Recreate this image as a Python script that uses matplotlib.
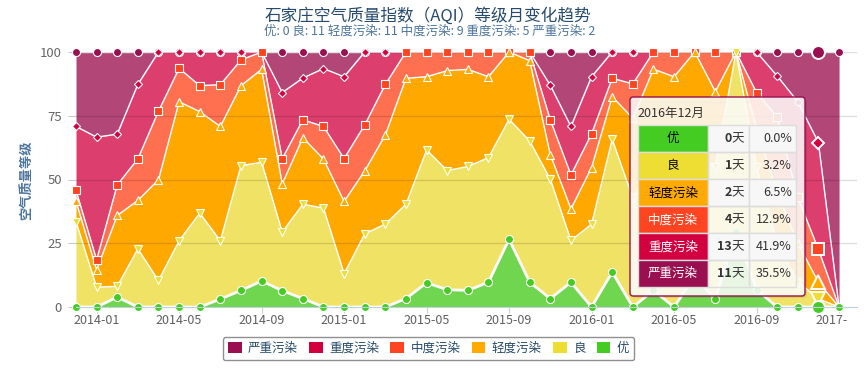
import numpy as np
import pandas as pd
import matplotlib.pyplot as plt
from matplotlib.patches import FancyBboxPatch, Rectangle, Patch
from matplotlib.transforms import Bbox

plt.rcParams['font.family'] = ['Noto Sans CJK SC', 'DejaVu Sans']

# ---- data (share of days per month, %) ----
months = [str(p) for p in pd.period_range('2013-12', '2017-01', freq='M')]

you    = [0, 0, 3.9, 0, 0, 0, 0, 3.1, 6.5, 10.2, 6.4, 3.3, 0, 0, 0, 0, 3.3, 9.5, 6.8, 6.5,
          9.7, 26.6, 9.7, 3.3, 9.7, 0, 13.7, 0, 6.5, 0, 12.0, 3.0, 29.5, 6.8, 0, 0, 0, 0]
liang  = [33.5, 7.8, 4.2, 22.8, 10.4, 26.0, 36.8, 22.9, 48.9, 46.6, 23.0, 37.0, 38.8, 13.1, 28.7, 32.5, 37.0, 52.1, 46.7, 48.6,
          48.9, 47.0, 55.4, 46.8, 16.4, 32.5, 52.1, 42.7, 48.5, 48.0, 48.0, 52.0, 70.5, 48.2, 25.0, 10.0, 3.2, 0]
qingdu = [7.9, 6.8, 27.8, 19.0, 39.5, 54.5, 39.8, 44.8, 31.4, 36.4, 18.9, 26.1, 19.2, 28.3, 24.7, 35.0, 49.4, 28.7, 39.2, 38.1,
          31.7, 26.4, 31.5, 9.6, 12.4, 22.2, 16.7, 31.3, 38.3, 42.3, 40.0, 29.5, 0, 15.0, 20.0, 15.0, 6.5, 0]
zhongdu = [4.4, 3.9, 12.0, 16.3, 26.9, 13.1, 10.2, 16.4, 10.1, 6.8, 9.9, 7.0, 12.8, 16.8, 18.0, 19.8, 10.3, 9.7, 7.3, 6.8,
           9.7, 0, 3.4, 13.7, 13.3, 13.2, 7.2, 13.5, 6.7, 9.7, 0, 15.5, 0, 14.1, 29.5, 18.0, 12.9, 0]
zhong  = [25.0, 48.1, 19.9, 29.2, 23.2, 6.4, 13.2, 12.8, 3.1, 0, 25.9, 16.4, 22.7, 32.1, 28.6, 12.7, 0, 0, 0, 0,
          0, 0, 0, 13.5, 19.0, 22.4, 10.3, 12.5, 0, 0, 0, 0, 0, 15.9, 16.1, 37.5, 41.9, 0]
yanzhong = [29.2, 33.4, 32.2, 12.7, 0, 0, 0, 0, 0, 0, 15.9, 10.2, 6.5, 9.7, 0, 0, 0, 0, 0, 0,
            0, 0, 0, 13.1, 29.2, 9.7, 0, 0, 0, 0, 0, 0, 0, 0, 9.4, 19.5, 35.5, 100]

names = ['优', '良', '轻度污染', '中度污染', '重度污染', '严重污染']
series = [you, liang, qingdu, zhongdu, zhong, yanzhong]
mark_colors = ['#44cc22', '#eedd33', '#ffaa00', '#ff4422', '#d2003f', '#990f4f']
fill_colors = ['#70d650', '#f0e264', '#ffa800', '#ff7050', '#dc3f6e', '#b24677']
markers = ['o', 'v', '^', 's', 'D', 'o']
msizes = [5.8, 6.2, 6.2, 5.6, 4.0, 5.8]

title = '石家庄空气质量指数（AQI）等级月变化趋势'
subtitle = '优: 0 良: 11 轻度污染: 11 中度污染: 9 重度污染: 5 严重污染: 2'

tip_month = '2016年12月'
tip_days = [0, 1, 2, 4, 13, 11]
hover = months.index('2016-12')

# ---- stacking (percent) ----
vals = np.array(series, dtype=float)
vals = vals / vals.sum(axis=0) * 100
cum = np.cumsum(vals, axis=0)
lower = np.vstack([np.zeros(len(months)), cum[:-1]])
x = np.arange(len(months))

fig = plt.figure(figsize=(8.66, 3.78), dpi=100)
ax = fig.add_axes([76/866, 1-307/378, 781/866, 255/378])

# highcharts draws the top series first
for k in range(5, -1, -1):
    z = 2 + (5 - k)
    ax.fill_between(x, lower[k], cum[k], color=fill_colors[k], lw=0, zorder=z)
    ax.plot(x, cum[k], color='white', lw=2.0 if k == 0 else 1.0, zorder=z + 0.1,
            clip_on=False, solid_joinstyle='round')

for yv in [25, 50, 75, 100]:
    ax.axhline(yv, color='black', alpha=0.13, lw=1, zorder=8)

for k in range(5, -1, -1):
    z = 9 + (5 - k)
    ax.plot(x, cum[k], ls='none', marker=markers[k], ms=msizes[k], mfc=mark_colors[k],
            mec='white', mew=0.8, zorder=z, clip_on=False)
    ax.plot(x[hover], cum[k][hover], ls='none', marker=markers[k], ms=msizes[k] * 1.6,
            mfc=mark_colors[k], mec='white', mew=1.4, zorder=z, clip_on=False)

ax.set_xlim(0, 37.87)
ax.set_ylim(0, 100)
ax.set_facecolor('white')
for s in ['top', 'right', 'left']:
    ax.spines[s].set_visible(False)
ax.spines['bottom'].set_color('#c0d0e0')
ax.spines['bottom'].set_zorder(20)

xt = list(range(1, len(months), 4))
ax.set_xticks(xt)
ax.set_xticklabels([months[i] for i in xt], fontsize=9, color='#606060')
ax.tick_params(axis='x', length=4, color='#c0d0e0', pad=1)
ax.set_yticks([0, 25, 50, 75, 100])
ax.set_yticklabels(['0', '25', '50', '75', '100'], fontsize=9.5, color='#666666')
ax.tick_params(axis='y', length=6, color='#c8c8c8', pad=4)

fig.text(428/866, 1-16/378, title, ha='center', va='center', fontsize=12, color='#274b6d')
fig.text(430/866, 1-31/378, subtitle, ha='center', va='center', fontsize=9, color='#4d759e')
fig.text(27/866, 1-180/378, '空气质量等级', rotation=90, ha='center', va='center',
         fontsize=9.5, color='#4d759e', fontweight='bold')

# legend
handles = [Patch(fc=mark_colors[k], ec='none') for k in range(5, -1, -1)]
labels = [names[k] for k in range(5, -1, -1)]
fig.legend(handles, labels, loc='center', bbox_to_anchor=(428.5/866, 1-348.5/378), ncol=6,
           frameon=True, fancybox=True, edgecolor='#909090', framealpha=1, fontsize=9,
           labelcolor='#274b6d', handlelength=1.1, handleheight=1.0, handletextpad=0.5,
           columnspacing=0.9, borderpad=0.4)

# tooltip overlay
ov = fig.add_axes([0, 0, 1, 1], zorder=5)
ov.set_xlim(0, 866)
ov.set_ylim(378, 0)
ov.axis('off')

ov.add_patch(FancyBboxPatch((632, 99), 175, 199, boxstyle='round,pad=0,rounding_size=3',
                            fc='black', ec='none', alpha=0.08))
ov.add_patch(FancyBboxPatch((630, 97), 175, 199, boxstyle='round,pad=0,rounding_size=3',
                            fc=(1, 1, 1, 0.86), ec='#990f4f', lw=1))
ov.text(637, 113, tip_month, ha='left', va='center', fontsize=9, color='#333333')

total = sum(tip_days)
row_top, row_h = 125.3, 27.0
cx = [638, 708, 749, 796]
for i in range(6):
    y0 = row_top + i * row_h
    ov.add_patch(Rectangle((cx[0], y0), cx[1] - cx[0], row_h, fc=mark_colors[i], ec='#dddddd', lw=1))
    rowbg = '#f7f7f7' if i % 2 == 0 else 'none'
    ov.add_patch(Rectangle((cx[1], y0), cx[2] - cx[1], row_h, fc=rowbg, ec='#dddddd', lw=1))
    ov.add_patch(Rectangle((cx[2], y0), cx[3] - cx[2], row_h, fc=rowbg, ec='#dddddd', lw=1))
    tc = 'black' if i < 3 else 'white'
    ov.text((cx[0] + cx[1]) / 2, y0 + row_h / 2, names[i], ha='center', va='center', fontsize=9, color=tc)
    ov.text(744, y0 + row_h / 2, '天', ha='right', va='center', fontsize=9, color='#333333')
    ov.text(732, y0 + row_h / 2, str(tip_days[i]), ha='right', va='center', fontsize=9,
            color='#333333', fontweight='bold')
    ov.text(792, y0 + row_h / 2, f'{tip_days[i] / total * 100:.1f}%', ha='right', va='center',
            fontsize=9, color='#333333')

fig.canvas.draw()
last = ax.get_xticklabels()[-1]
last.set_clip_box(Bbox([[0, 0], [847, 378]]))
last.set_clip_on(True)

fig.savefig('out.png', dpi=100)
